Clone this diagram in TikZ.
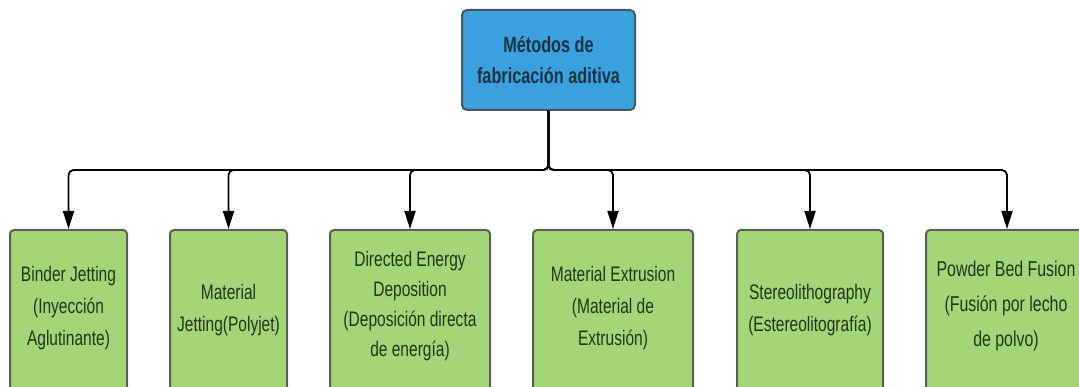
\documentclass[tikz,border=0pt]{standalone}
\usepackage{fontspec}
\setmainfont{Liberation Sans}[FakeStretch=0.74]
\usetikzlibrary{arrows.meta}
\definecolor{topfill}{RGB}{58,160,222}
\definecolor{topborder}{RGB}{72,88,96}
\definecolor{toptext}{RGB}{30,52,66}
\definecolor{leaffill}{RGB}{162,214,118}
\definecolor{leafborder}{RGB}{90,96,86}
\definecolor{leaftext}{RGB}{36,54,24}
\tikzset{
  topbox/.style={draw=topborder, line width=2pt, fill=topfill, rounded corners=5pt,
    minimum width=173pt, minimum height=100pt, align=center, text=toptext,
    font=\fontsize{22}{31}\selectfont\bfseries, inner sep=0pt},
  leafbox/.style={draw=leafborder, line width=2pt, fill=leaffill, rounded corners=4pt,
    minimum height=170pt, align=center, text=leaftext,
    font=\fontsize{21}{31}\selectfont, inner sep=0pt, anchor=north},
  leaftxt/.style={align=center, text=leaftext, font=\fontsize{21}{32}\selectfont},
  conn/.style={draw=black, line width=1.8pt, rounded corners=5pt,
    -{Triangle[length=18pt,width=11pt]}},
}
\begin{document}
\begin{tikzpicture}[x=1pt,y=-1pt]
\useasboundingbox (0,0) rectangle (1079,387);
\clip (0,0) rectangle (1079,387);
\node[topbox] (top) at (548.5,60) {Métodos de\\fabricación aditiva};
\coordinate (bus) at (548.5,170);
\node[leafbox, minimum width=117pt] (b1) at (68.5,229) {};
\node[leafbox, minimum width=117pt] (b2) at (228.5,229) {};
\node[leafbox, minimum width=160pt] (b3) at (410,229) {};
\node[leafbox, minimum width=160pt] (b4) at (613,229) {};
\node[leafbox, minimum width=146pt] (b5) at (810,229) {};
\node[leafbox, minimum width=162pt] (b6) at (1007,229) {};
\node[leaftxt] (t1) at (68.5,308) {Binder Jetting\\(Inyección\\Aglutinante)};
\node[leaftxt] (t2) at (228.5,310) {Material\\Jetting(Polyjet)};
\node[leaftxt, font=\fontsize{21}{30}\selectfont] (t3) at (410,306) {Directed Energy\\Deposition\\(Deposición directa\\de energía)};
\node[leaftxt] (t4) at (613,308) {Material Extrusion\\(Material de\\Extrusión)};
\node[leaftxt] (t5) at (810,310) {Stereolithography\\(Estereolitografía)};
\node[leaftxt, font=\fontsize{21.5}{35}\selectfont] (t6) at (1006,306) {Powder Bed Fusion\\(Fusión por lecho\\de polvo)};
\foreach \b in {b1,b2,b3,b4,b5,b6}{
  \draw[conn] (top.south) -- (top.south |- bus) -| (\b.north);
}
\end{tikzpicture}
\end{document}
